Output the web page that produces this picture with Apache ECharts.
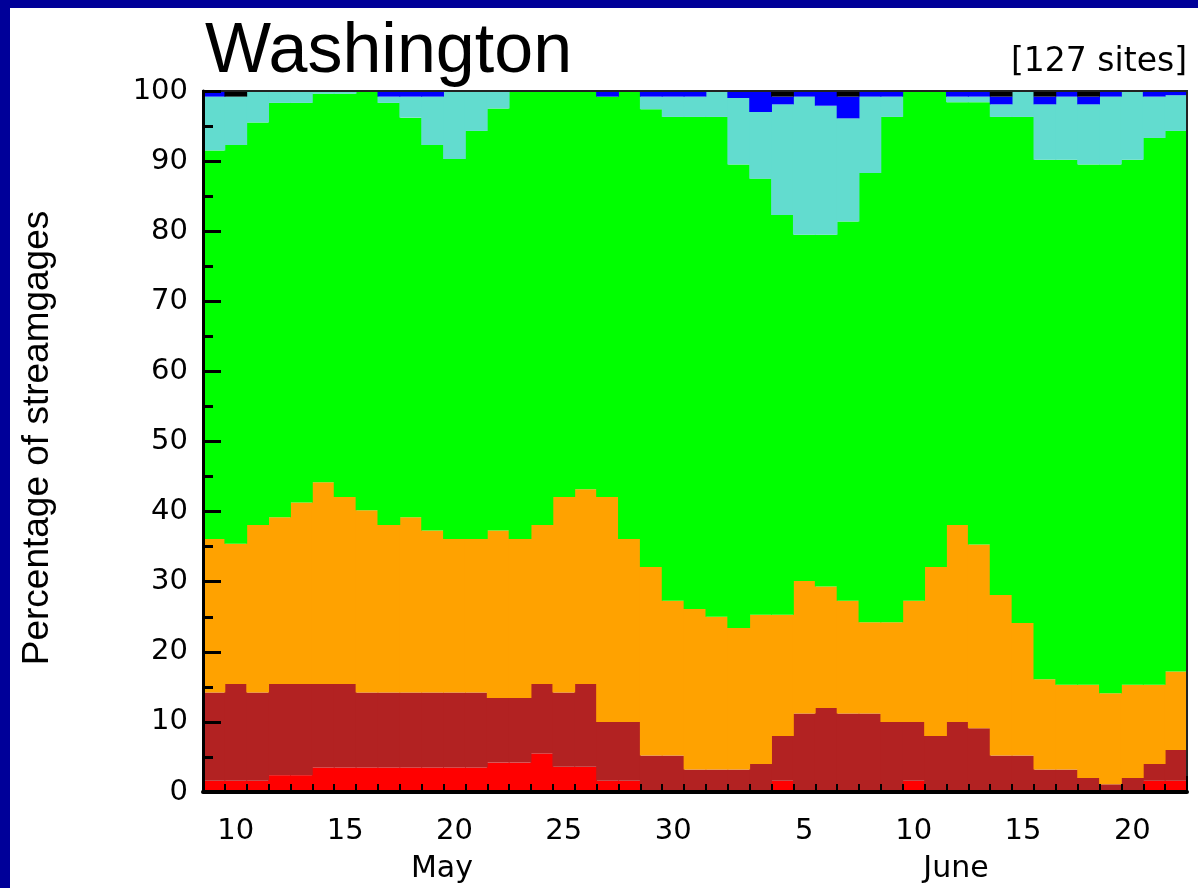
<!DOCTYPE html>
<html>
<head>
<meta charset="utf-8">
<script src="https://cdn.jsdelivr.net/npm/echarts@6/dist/echarts.min.js"></script>
<style>
  html, body { margin: 0; padding: 0; background: #000099; }
  #chart { width: 1198px; height: 888px; }
</style>
</head>
<body>
<div id="chart"></div>
<script>
// daily categories, May 9 .. June 22
const days = [
  'May 9', 'May 10', 'May 11', 'May 12', 'May 13', 'May 14', 'May 15', 'May 16', 'May 17', 'May 18',
  'May 19', 'May 20', 'May 21', 'May 22', 'May 23', 'May 24', 'May 25', 'May 26', 'May 27', 'May 28',
  'May 29', 'May 30', 'May 31', 'Jun 1', 'Jun 2', 'Jun 3', 'Jun 4', 'Jun 5', 'Jun 6', 'Jun 7',
  'Jun 8', 'Jun 9', 'Jun 10', 'Jun 11', 'Jun 12', 'Jun 13', 'Jun 14', 'Jun 15', 'Jun 16', 'Jun 17',
  'Jun 18', 'Jun 19', 'Jun 20', 'Jun 21', 'Jun 22'
]

// percentage of streamgages in each flow class, bottom to top
const low = [
  1.6, 1.6, 1.6, 2.4, 2.4, 3.5, 3.5, 3.5, 3.5, 3.5,
  3.5, 3.5, 3.5, 4.2, 4.2, 5.5, 3.6, 3.6, 1.6, 1.6,
  0, 0, 0, 0, 0, 0, 1.6, 0, 0, 0,
  0, 0, 1.6, 0, 0, 0, 0, 0, 0, 0,
  0, 0, 0, 1.6, 1.6
]
const muchBelow = [
  12.6, 13.8, 12.6, 13.0, 13.0, 11.9, 11.9, 10.7, 10.7, 10.7,
  10.7, 10.7, 10.7, 9.2, 9.2, 9.9, 10.6, 11.8, 8.4, 8.4,
  5.2, 5.2, 3.2, 3.2, 3.2, 4.0, 6.4, 11.2, 12.0, 11.2,
  11.2, 10.0, 8.4, 8.0, 10.0, 9.1, 5.2, 5.2, 3.2, 3.2,
  2.0, 1.1, 2.0, 2.4, 4.4
]
const below = [
  21.9, 20.0, 23.9, 23.8, 25.9, 28.8, 26.7, 26.0, 23.9, 25.0,
  23.1, 21.9, 21.9, 23.9, 22.7, 22.7, 27.9, 27.8, 32.1, 26.1,
  26.9, 22.1, 22.9, 21.8, 20.2, 21.3, 17.3, 18.9, 17.3, 16.1,
  13.0, 14.2, 17.3, 24.1, 28.1, 26.2, 22.9, 18.9, 12.9, 12.1,
  13.3, 13.0, 13.3, 11.3, 11.2
]
const normal = [
  55.4, 56.9, 57.4, 59.1, 57.0, 55.4, 57.5, 59.8, 60.2, 57.0,
  55.0, 54.2, 58.2, 60.2, 63.9, 61.9, 57.9, 56.8, 57.1, 63.9,
  65.3, 69.0, 70.2, 71.3, 66.1, 62.2, 57.0, 49.4, 50.2, 54.1,
  64.1, 72.1, 72.7, 67.9, 60.3, 63.1, 68.2, 72.2, 74.1, 74.9,
  74.2, 75.4, 74.9, 78.0, 77.1
]
const above = [
  7.7, 6.9, 4.5, 1.7, 1.7, 0.4, 0.4, 0, 0.9, 3.0,
  6.9, 9.7, 5.7, 2.5, 0, 0, 0, 0, 0, 0,
  1.8, 2.9, 2.9, 3.7, 9.5, 9.5, 15.8, 19.7, 18.4, 14.7,
  10.9, 2.9, 0, 0, 0.8, 0.8, 1.8, 3.7, 7.9, 9.0,
  8.6, 9.7, 9.8, 5.9, 5.1
]
const muchAbove = [
  0.8, 0, 0, 0, 0, 0, 0, 0, 0.8, 0.8,
  0.8, 0, 0, 0, 0, 0, 0, 0, 0.8, 0,
  0.8, 0.8, 0.8, 0, 1.0, 3.0, 1.1, 0.8, 2.1, 3.1,
  0.8, 0.8, 0, 0, 0.8, 0.8, 1.1, 0, 1.1, 0.8,
  1.1, 0.8, 0, 0.8, 0.8
]
const high = [
  0, 0.8, 0, 0, 0, 0, 0, 0, 0, 0,
  0, 0, 0, 0, 0, 0, 0, 0, 0, 0,
  0, 0, 0, 0, 0, 0, 0.8, 0, 0, 0.8,
  0, 0, 0, 0, 0, 0, 0.8, 0, 0.8, 0,
  0.8, 0, 0, 0, 0
]

const classes = [
  { name: 'Low', data: low, color: '#ff0000' },
  { name: '<10', data: muchBelow, color: '#b22222' },
  { name: '10-24', data: below, color: '#ffa200' },
  { name: '25-75', data: normal, color: '#00ff00' },
  { name: '76-90', data: above, color: '#62dccf' },
  { name: '>90', data: muchAbove, color: '#0000ff' },
  { name: 'High', data: high, color: '#000000' },
]

const tickFont = { color: '#000', fontFamily: 'DejaVu Sans', fontSize: 29 }
const noLine = { show: false }
const plotW = 1198 - 203 - 11
const plotH = 888 - 91 - 96

const chart = echarts.init(document.getElementById('chart'))
chart.setOption({
  animation: false,
  backgroundColor: '#000099',
  graphic: [
    { type: 'rect', z: -10, shape: { x: 10, y: 8, width: 1188, height: 880 }, style: { fill: '#fff' } },
    {
      type: 'text', left: 205, top: 18,
      style: { text: 'Washington', font: '70px "Liberation Sans"', fill: '#000' },
    },
    {
      type: 'text', right: 11, top: 46,
      style: { text: '[127 sites]', font: '33px "DejaVu Sans"', fill: '#000' },
    },
    {
      type: 'text', x: 38, y: 438, rotation: Math.PI / 2,
      style: {
        text: 'Percentage of streamgages', font: '37px "Liberation Sans"', fill: '#000',
        align: 'center', verticalAlign: 'middle',
      },
    },
    {
      type: 'text', x: 442, y: 869,
      style: { text: 'May', font: '30px "DejaVu Sans"', fill: '#000', align: 'center', verticalAlign: 'middle' },
    },
    {
      type: 'text', x: 956, y: 869,
      style: { text: 'June', font: '30px "DejaVu Sans"', fill: '#000', align: 'center', verticalAlign: 'middle' },
    },
  ],
  grid: {
    left: 203, right: 11, top: 91, bottom: 96,
    show: true, z: 20, backgroundColor: 'transparent', borderColor: '#222', borderWidth: 2,
  },
  xAxis: [
    {
      type: 'category',
      data: days,
      position: 'bottom',
      z: 21,
      axisLine: { lineStyle: { color: '#000', width: 4 } },
      axisTick: { show: true, inside: true, length: 8, interval: 0, lineStyle: { color: '#000', width: 2 } },
      axisLabel: {
        ...tickFont,
        margin: 25,
        interval: (i, v) => Number(v.split(' ')[1]) % 5 === 0,
        formatter: (v) => v.split(' ')[1],
      },
      splitLine: noLine,
    },
    {
      // top axis moved down onto the bottom edge: longer tick at the month boundary
      type: 'category',
      data: days,
      position: 'top',
      offset: -plotH,
      z: 21,
      axisLine: noLine,
      axisTick: { show: true, inside: false, length: 16, interval: (i) => i === 23, lineStyle: { color: '#000', width: 2 } },
      axisLabel: noLine,
      splitLine: noLine,
    },
  ],
  yAxis: [
    {
      type: 'value',
      min: 0,
      max: 100,
      interval: 10,
      position: 'left',
      z: 22,
      axisLine: { show: true, lineStyle: { color: '#000', width: 3 } },
      axisTick: { show: true, inside: true, length: 18, lineStyle: { color: '#000', width: 3 } },
      axisLabel: { ...tickFont, margin: 15 },
      splitLine: noLine,
    },
    {
      // right axis moved onto the left edge: short ticks at every 5 %
      type: 'value',
      min: 0,
      max: 100,
      interval: 5,
      position: 'right',
      offset: -plotW,
      z: 21,
      axisLine: noLine,
      axisTick: { show: true, inside: false, length: 10, lineStyle: { color: '#000', width: 3 } },
      axisLabel: noLine,
      splitLine: noLine,
    },
  ],
  series: classes.map((c) => ({
    name: c.name,
    type: 'bar',
    stack: 'pct',
    data: c.data,
    barWidth: '104%',
    itemStyle: { color: c.color },
    emphasis: { disabled: true },
  })),
})
</script>
</body>
</html>
